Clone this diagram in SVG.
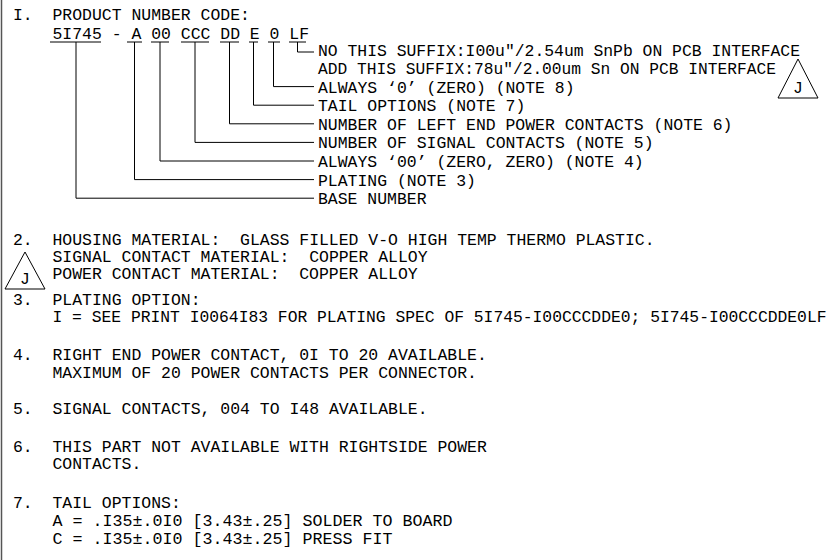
<svg xmlns="http://www.w3.org/2000/svg" width="830" height="560" viewBox="0 0 830 560" xml:space="preserve">
<style>
text{font-family:"Liberation Mono","DejaVu Sans Mono",monospace;font-size:16.4px;fill:#000;white-space:pre}
.ln{stroke:#000;stroke-width:1;fill:none}
.tri{stroke:#000;stroke-width:1;fill:none}
.j{text-anchor:middle}
</style>
<rect x="0" y="0" width="830" height="560" fill="#fff"/>
<line x1="1.5" y1="0" x2="1.5" y2="560" stroke="#555" stroke-width="1.5"/>

<g id="note1">
<text x="13" y="20" textLength="19.7" lengthAdjust="spacingAndGlyphs">I.</text>
<text x="52.5" y="20" textLength="197.4" lengthAdjust="spacingAndGlyphs">PRODUCT NUMBER CODE:</text>
<text x="52.5" y="39" textLength="256.6" lengthAdjust="spacingAndGlyphs">5I745 - A 00 CCC DD E 0 LF</text>
</g>

<g id="connectors" class="ln">
<path d="M50 42H101 M127 42H142 M151 42H169 M181 42H209 M220 42H239 M249 42H258 M268 42H280 M289 42H306"/>
<path d="M297.5 42V52H314"/>
<path d="M273.5 42V86.6H314"/>
<path d="M253.5 42V105.2H314"/>
<path d="M229.5 42V123.8H314"/>
<path d="M195 42V142.4H314"/>
<path d="M160 42V161H314"/>
<path d="M134.5 42V179.6H314"/>
<path d="M76 42V198.2H314"/>
</g>

<g id="labels">
<text x="318" y="55.5" textLength="482" lengthAdjust="spacingAndGlyphs">NO THIS SUFFIX:I00u"/2.54um SnPb ON PCB INTERFACE</text>
<text x="318" y="74" textLength="458" lengthAdjust="spacingAndGlyphs">ADD THIS SUFFIX:78u"/2.00um Sn ON PCB INTERFACE</text>
<text x="318" y="92.6" textLength="256.6" lengthAdjust="spacingAndGlyphs">ALWAYS ‘0’ (ZERO) (NOTE 8)</text>
<text x="318" y="111.2" textLength="207.3" lengthAdjust="spacingAndGlyphs">TAIL OPTIONS (NOTE 7)</text>
<text x="318" y="129.8" textLength="414.5" lengthAdjust="spacingAndGlyphs">NUMBER OF LEFT END POWER CONTACTS (NOTE 6)</text>
<text x="318" y="148.4" textLength="335.6" lengthAdjust="spacingAndGlyphs">NUMBER OF SIGNAL CONTACTS (NOTE 5)</text>
<text x="318" y="167" textLength="325.7" lengthAdjust="spacingAndGlyphs">ALWAYS ‘00’ (ZERO, ZERO) (NOTE 4)</text>
<text x="318" y="185.6" textLength="157.9" lengthAdjust="spacingAndGlyphs">PLATING (NOTE 3)</text>
<text x="318" y="204.2" textLength="108.6" lengthAdjust="spacingAndGlyphs">BASE NUMBER</text>
</g>

<g id="rev-mark-1">
<polygon class="tri" points="778,98 818,98 798,59"/>
<text class="j" x="798" y="93">J</text>
</g>

<g id="note2">
<text x="13" y="245" textLength="19.7" lengthAdjust="spacingAndGlyphs">2.</text>
<text x="52.5" y="245" textLength="602.1" lengthAdjust="spacingAndGlyphs">HOUSING MATERIAL:  GLASS FILLED V-O HIGH TEMP THERMO PLASTIC.</text>
<text x="52.5" y="262" textLength="375.1" lengthAdjust="spacingAndGlyphs">SIGNAL CONTACT MATERIAL:  COPPER ALLOY</text>
<text x="52.5" y="279" textLength="365.2" lengthAdjust="spacingAndGlyphs">POWER CONTACT MATERIAL:  COPPER ALLOY</text>
</g>

<g id="rev-mark-2">
<polygon class="tri" points="5,289 45,289 25,252"/>
<text class="j" x="25" y="284">J</text>
</g>

<g id="note3">
<text x="13" y="305" textLength="19.7" lengthAdjust="spacingAndGlyphs">3.</text>
<text x="52.5" y="305" textLength="148" lengthAdjust="spacingAndGlyphs">PLATING OPTION:</text>
<text x="52.5" y="322" textLength="774" lengthAdjust="spacingAndGlyphs">I = SEE PRINT I0064I83 FOR PLATING SPEC OF 5I745-I00CCCDDE0; 5I745-I00CCCDDE0LF</text>
</g>

<g id="note4">
<text x="13" y="360" textLength="19.7" lengthAdjust="spacingAndGlyphs">4.</text>
<text x="52.5" y="360" textLength="434.3" lengthAdjust="spacingAndGlyphs">RIGHT END POWER CONTACT, 0I TO 20 AVAILABLE.</text>
<text x="52.5" y="378" textLength="424.4" lengthAdjust="spacingAndGlyphs">MAXIMUM OF 20 POWER CONTACTS PER CONNECTOR.</text>
</g>

<g id="note5">
<text x="13" y="414" textLength="19.7" lengthAdjust="spacingAndGlyphs">5.</text>
<text x="52.5" y="414" textLength="375.1" lengthAdjust="spacingAndGlyphs">SIGNAL CONTACTS, 004 TO I48 AVAILABLE.</text>
</g>

<g id="note6">
<text x="13" y="452" textLength="19.7" lengthAdjust="spacingAndGlyphs">6.</text>
<text x="52.5" y="452" textLength="434.3" lengthAdjust="spacingAndGlyphs">THIS PART NOT AVAILABLE WITH RIGHTSIDE POWER</text>
<text x="52.5" y="469" textLength="88.8" lengthAdjust="spacingAndGlyphs">CONTACTS.</text>
</g>

<g id="note7">
<text x="13" y="508" textLength="19.7" lengthAdjust="spacingAndGlyphs">7.</text>
<text x="52.5" y="508" textLength="128.3" lengthAdjust="spacingAndGlyphs">TAIL OPTIONS:</text>
<text x="52.5" y="526" textLength="400" lengthAdjust="spacingAndGlyphs">A = .I35±.0I0 [3.43±.25] SOLDER TO BOARD</text>
<text x="52.5" y="544" textLength="340" lengthAdjust="spacingAndGlyphs">C = .I35±.0I0 [3.43±.25] PRESS FIT</text>
</g>
</svg>
